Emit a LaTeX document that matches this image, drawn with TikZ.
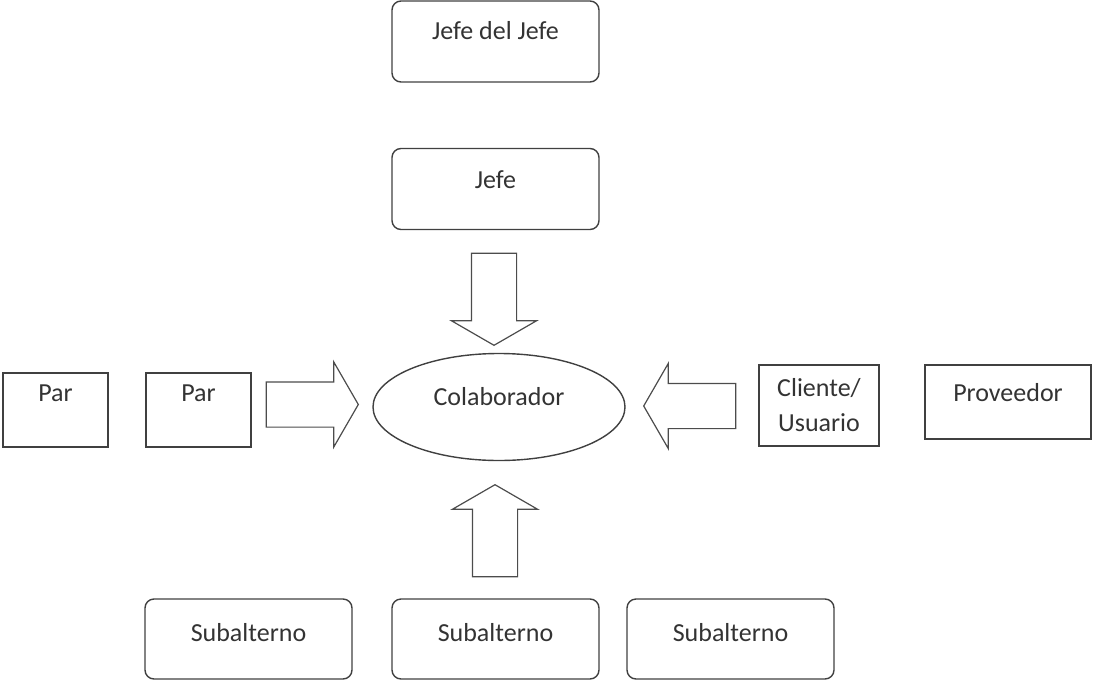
\documentclass[tikz,border=0pt]{standalone}
\usepackage{fontspec}
\setmainfont{Carlito}
\usetikzlibrary{shapes.geometric,shapes.arrows}

\begin{document}
\begin{tikzpicture}[x=1pt,y=-1pt,
    caja/.style={draw=black!75, line width=1.4pt, rounded corners=9pt,
        minimum width=207pt, minimum height=81pt, inner sep=0pt,
        text=black!80, font=\fontsize{26}{35}\selectfont},
    cajarecta/.style={caja, rounded corners=0pt, minimum width=105pt, minimum height=74pt},
    arriba/.style={text height=20pt, text depth=#1},
    flecha/.style={single arrow, draw=black!70, line width=1.2pt,
        minimum height=92pt, minimum width=84pt, inner sep=22pt,
        single arrow head extend=20pt, single arrow tip angle=120, anchor=tip}]

    % marco
    \useasboundingbox (0,0) rectangle (1094,680);

    %—————— jefes ——————
    \node[caja, arriba=25pt] (jefejefe) at (495.5,41.5) {Jefe del Jefe};
    \node[caja, arriba=21pt] (jefe)     at (495.5,189)  {Jefe};

    %—————— centro ——————
    \node[ellipse, draw=black!75, line width=1.4pt, minimum width=252pt, minimum height=107pt,
        inner sep=0pt, text=black!80, font=\fontsize{26}{35}\selectfont, arriba=23pt]
        (colab) at (499,407) {Colaborador};

    %—————— pares ——————
    \node[cajarecta, arriba=37pt] (par1) at (55.5,410)  {Par};
    \node[cajarecta, arriba=37pt] (par2) at (198.5,410) {Par};

    %—————— cliente y proveedor ——————
    \node[cajarecta, minimum width=120pt, minimum height=81pt, align=center]
        (cliente) at (819,405.5) {Cliente/\\Usuario};
    \node[cajarecta, minimum width=166pt, arriba=21pt] (prov) at (1008,402) {Proveedor};

    %—————— subalternos ——————
    \node[caja, minimum height=80pt, arriba=15pt] (sub1) at (248.5,639) {Subalterno};
    \node[caja, minimum height=80pt, arriba=15pt] (sub2) at (495.5,639) {Subalterno};
    \node[caja, minimum height=80pt, arriba=15pt] (sub3) at (730.5,639) {Subalterno};

    %—————— flechas de bloque ——————
    \node[flecha, shape border rotate=270] (fjefe)    at (494,346)   {};
    \node[flecha, shape border rotate=0]   (fpar)     at (359,404.5) {};
    \node[flecha, shape border rotate=180] (fcliente) at (643,406)   {};
    \node[flecha, shape border rotate=90]  (fsub)     at (495,484)   {};
\end{tikzpicture}
\end{document}
